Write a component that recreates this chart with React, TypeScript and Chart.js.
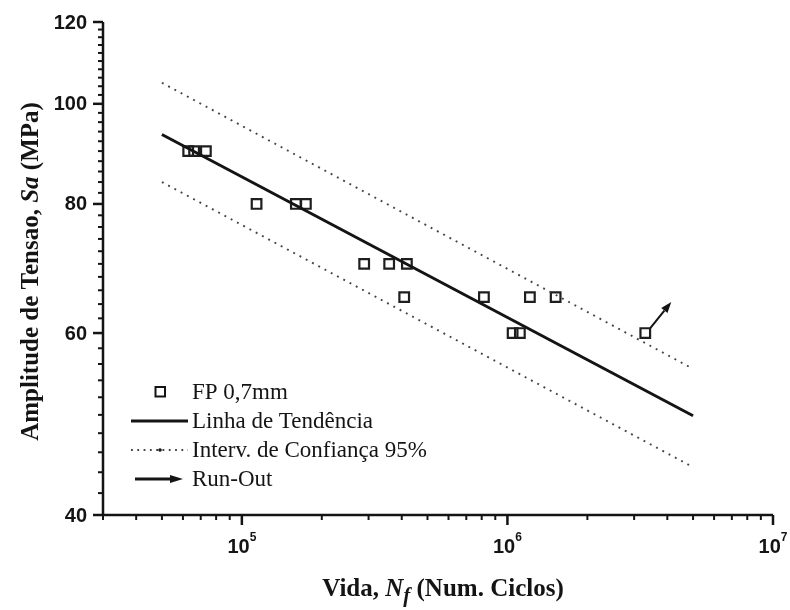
import React, { useEffect, useRef } from 'react';
import Chart from 'chart.js/auto';

// ---- data ----
const fpCycles = [62800, 66100, 73200, 113600, 159700, 174200, 288800, 358700, 418200, 408600, 815600, 1215000, 1519000, 1046000, 1114000, 3304000];
const fpStress = [90, 90, 90, 80, 80, 80, 70, 70, 70, 65, 65, 65, 65, 60, 60, 60];
const trendCycles = [50000, 5000000];
const trendStress = [93.4, 49.9];
const upperStress = [104.8, 55.4];
const lowerStress = [84.0, 44.5];
const runOutCycles = [3304000];
const runOutStress = [60];
const xMajorTicks = [1e5, 1e6, 1e7];
const xTickExponents = ['5', '6', '7'];
const xMinorMantissas = [2, 3, 4, 5, 6, 7, 8, 9];
const xMinorDecades = [1e4, 1e5, 1e6];
const yMajorTicks = [40, 60, 80, 100, 120];
const yMinorStep = 2;
const legendLabels = ['FP 0,7mm', 'Linha de Tendência', 'Interv. de Confiança 95%', 'Run-Out'];
const xMin = 3e4;
const xMax = 1e7;
const yMin = 40;
const yMax = 120;

const INK = '#141414';
const SERIF = '"Liberation Serif", "Times New Roman", serif';
const SANS = '"Liberation Sans", Arial, sans-serif';

type Seg = { t: string; font: string; dy?: number };

function drawRich(ctx: CanvasRenderingContext2D, segs: Seg[], cx: number, y: number) {
  let total = 0;
  const widths = segs.map((s) => {
    ctx.font = s.font;
    const w = ctx.measureText(s.t).width;
    total += w;
    return w;
  });
  let x = cx - total / 2;
  ctx.textAlign = 'left';
  ctx.textBaseline = 'alphabetic';
  segs.forEach((s, i) => {
    ctx.font = s.font;
    ctx.fillText(s.t, x, y + (s.dy || 0));
    x += widths[i];
  });
}

function arrow(ctx: CanvasRenderingContext2D, x1: number, y1: number, x2: number, y2: number, head: number, hw: number, lw: number) {
  const ang = Math.atan2(y2 - y1, x2 - x1);
  const bx = x2 - head * Math.cos(ang);
  const by = y2 - head * Math.sin(ang);
  ctx.save();
  ctx.strokeStyle = INK;
  ctx.fillStyle = INK;
  ctx.lineWidth = lw;
  ctx.setLineDash([]);
  ctx.beginPath();
  ctx.moveTo(x1, y1);
  ctx.lineTo(bx, by);
  ctx.stroke();
  ctx.beginPath();
  ctx.moveTo(x2, y2);
  ctx.lineTo(bx + (hw / 2) * Math.sin(ang), by - (hw / 2) * Math.cos(ang));
  ctx.lineTo(bx - (hw / 2) * Math.sin(ang), by + (hw / 2) * Math.cos(ang));
  ctx.closePath();
  ctx.fill();
  ctx.restore();
}

const decorPlugin = {
  id: 'decor',
  afterDraw(chart: any) {
    const ctx: CanvasRenderingContext2D = chart.ctx;
    const xs = chart.scales.x;
    const ys = chart.scales.y;
    const area = chart.chartArea;
    ctx.save();
    ctx.strokeStyle = INK;
    ctx.fillStyle = INK;

    // run-out arrows
    runOutCycles.forEach((c, i) => {
      const px = xs.getPixelForValue(c);
      const py = ys.getPixelForValue(runOutStress[i]);
      arrow(ctx, px + 5, py - 5, px + 26, py - 31, 11, 8, 2);
    });

    // axes lines
    ctx.lineWidth = 2.5;
    ctx.beginPath();
    ctx.moveTo(area.left, area.top);
    ctx.lineTo(area.left, area.bottom + 1.2);
    ctx.moveTo(area.left - 1.2, area.bottom);
    ctx.lineTo(area.right, area.bottom);
    ctx.stroke();

    // x ticks
    const tickX = (v: number, len: number, w: number) => {
      const px = xs.getPixelForValue(v);
      ctx.lineWidth = w;
      ctx.beginPath();
      ctx.moveTo(px, area.bottom);
      ctx.lineTo(px, area.bottom + len);
      ctx.stroke();
    };
    xMinorDecades.forEach((d) =>
      xMinorMantissas.forEach((m) => {
        const v = d * m;
        if (v >= xMin && v <= xMax) tickX(v, 5, 2);
      })
    );
    xMajorTicks.forEach((v) => tickX(v, 10, 2.5));

    // y ticks
    const tickY = (v: number, len: number, w: number) => {
      const py = ys.getPixelForValue(v);
      ctx.lineWidth = w;
      ctx.beginPath();
      ctx.moveTo(area.left, py);
      ctx.lineTo(area.left - len, py);
      ctx.stroke();
    };
    for (let v = yMin + yMinorStep; v < yMax; v += yMinorStep) {
      if (!yMajorTicks.includes(v)) tickY(v, 5, 2);
    }
    yMajorTicks.forEach((v) => tickY(v, 10, 2.5));

    // y tick labels
    ctx.font = `bold 20px ${SANS}`;
    ctx.textAlign = 'right';
    ctx.textBaseline = 'middle';
    yMajorTicks.forEach((v) => {
      ctx.fillText(String(v), area.left - 16, ys.getPixelForValue(v) + 1);
    });

    // x tick labels with superscripts
    xMajorTicks.forEach((v, i) => {
      const px = xs.getPixelForValue(v);
      drawRich(
        ctx,
        [
          { t: '10', font: `bold 20px ${SANS}` },
          { t: xTickExponents[i], font: `bold 12px ${SANS}`, dy: -12 },
        ],
        px,
        area.bottom + 38
      );
    });

    // x title
    drawRich(
      ctx,
      [
        { t: 'Vida, ', font: `bold 25px ${SERIF}` },
        { t: 'N', font: `italic bold 25px ${SERIF}` },
        { t: 'f', font: `italic bold 21px ${SERIF}`, dy: 6 },
        { t: ' (Num. Ciclos)', font: `bold 25px ${SERIF}` },
      ],
      (area.left + area.right) / 2 + 5,
      596
    );

    // y title
    ctx.save();
    ctx.translate(38, (area.top + area.bottom) / 2 + 3);
    ctx.rotate(-Math.PI / 2);
    drawRich(
      ctx,
      [
        { t: 'Amplitude de Tensao, ', font: `bold 25px ${SERIF}` },
        { t: 'Sa', font: `italic bold 25px ${SERIF}` },
        { t: ' (MPa)', font: `bold 25px ${SERIF}` },
      ],
      0,
      0
    );
    ctx.restore();

    // legend
    const lx = 192;
    const base = [399, 428, 457, 486];
    ctx.font = `23px ${SERIF}`;
    ctx.textAlign = 'left';
    ctx.textBaseline = 'alphabetic';
    legendLabels.forEach((l, i) => ctx.fillText(l, lx, base[i]));
    // symbols
    ctx.lineWidth = 2;
    ctx.strokeRect(155.5, 387, 9.5, 9.5);
    ctx.lineWidth = 3;
    ctx.beginPath();
    ctx.moveTo(131, 421);
    ctx.lineTo(188, 421);
    ctx.stroke();
    ctx.save();
    ctx.strokeStyle = '#444';
    ctx.lineWidth = 1.8;
    ctx.setLineDash([1.8, 4.5]);
    ctx.beginPath();
    ctx.moveTo(131, 450);
    ctx.lineTo(188, 450);
    ctx.stroke();
    ctx.restore();
    ctx.beginPath();
    ctx.arc(160, 450, 1.8, 0, Math.PI * 2);
    ctx.fill();
    arrow(ctx, 135, 479, 183, 479, 13, 8, 3);

    ctx.restore();
  },
};

export default function App() {
  const ref = useRef<HTMLCanvasElement>(null);
  useEffect(() => {
    if (!ref.current) return;
    const dotted = {
      showLine: true,
      pointRadius: 0,
      borderColor: '#444',
      borderWidth: 1.9,
      borderDash: [1.9, 5.2],
      fill: false,
    };
    const chart = new Chart(ref.current, {
      type: 'scatter',
      data: {
        datasets: [
          {
            label: legendLabels[1],
            data: trendCycles.map((x, i) => ({ x, y: trendStress[i] })),
            showLine: true,
            pointRadius: 0,
            borderColor: INK,
            borderWidth: 3,
            fill: false,
          },
          {
            label: legendLabels[2],
            data: trendCycles.map((x, i) => ({ x, y: upperStress[i] })),
            ...dotted,
          },
          {
            label: legendLabels[2] + ' (inf)',
            data: trendCycles.map((x, i) => ({ x, y: lowerStress[i] })),
            ...dotted,
          },
          {
            label: legendLabels[0],
            data: fpCycles.map((x, i) => ({ x, y: fpStress[i] })),
            showLine: false,
            pointStyle: 'rect',
            pointRadius: 6.8,
            borderColor: '#1e1e1e',
            borderWidth: 2.2,
            backgroundColor: 'rgba(0,0,0,0)',
          },
        ],
      },
      options: {
        animation: false,
        responsive: false,
        devicePixelRatio: 1,
        layout: { padding: { left: 103, right: 17, top: 22, bottom: 95 } },
        plugins: { legend: { display: false }, tooltip: { enabled: false } },
        events: [],
        scales: {
          x: { type: 'logarithmic', min: xMin, max: xMax, display: false },
          y: { type: 'logarithmic', min: yMin, max: yMax, display: false },
        },
      },
      plugins: [decorPlugin],
    } as any);
    return () => chart.destroy();
  }, []);
  return (
    <div style={{ position: 'fixed', left: 0, top: 0, width: 790, height: 610, background: '#fff' }}>
      <canvas ref={ref} width={790} height={610} />
    </div>
  );
}
